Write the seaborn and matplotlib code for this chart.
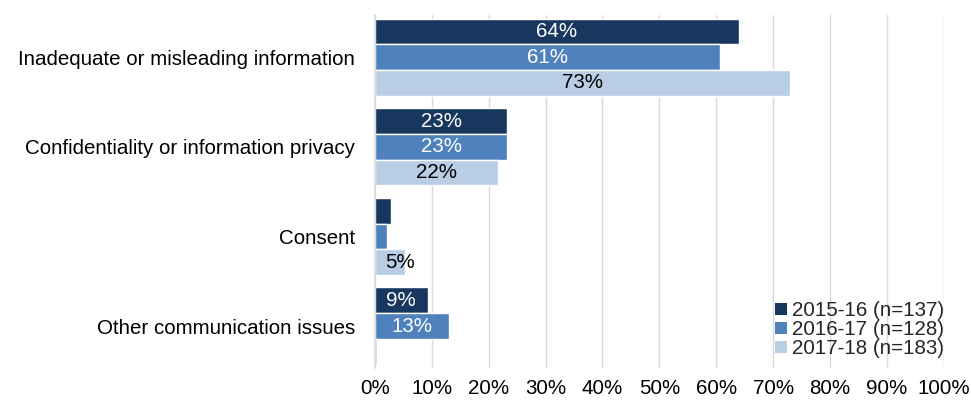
import matplotlib
matplotlib.use("Agg")
import matplotlib.pyplot as plt
import seaborn as sns
import pandas as pd
from matplotlib.patches import Patch

categories = [
    "Inadequate or misleading information",
    "Confidentiality or information privacy",
    "Consent",
    "Other communication issues",
]
years = ["2015-16 (n=137)", "2016-17 (n=128)", "2017-18 (n=183)"]
values_2015 = [64.0, 23.3, 2.8, 9.3]
values_2016 = [60.7, 23.3, 2.2, 13.1]
values_2017 = [73.0, 21.7, 5.3, 0.35]
colors = ["#17375E", "#4F81BD", "#B9CDE5"]
label_colors = ["white", "white", "black"]
min_labelled = 4.0

rows = []
for year, vals in zip(years, [values_2015, values_2016, values_2017]):
    for cat, v in zip(categories, vals):
        rows.append({"category": cat, "year": year, "value": v})
df = pd.DataFrame(rows)

sns.set_theme(style="white")
plt.rcParams["font.family"] = ["Liberation Sans", "DejaVu Sans"]
FS = 14.8

fig = plt.figure(figsize=(9.71, 4.05), dpi=100)
ax = fig.add_axes([0.386, 0.091, 0.586, 0.872])

sns.barplot(data=df, x="value", y="category", hue="year", order=categories,
            hue_order=years, palette=colors, saturation=1, orient="h",
            width=0.86, edgecolor="white", linewidth=1.0, legend=False, ax=ax)

for container, lc in zip(ax.containers, label_colors):
    labels = [f"{v:.0f}%" if v >= min_labelled else "" for v in container.datavalues]
    texts = ax.bar_label(container, labels=labels, label_type="center",
                         color=lc, fontsize=FS)
    # labels wider than their bar are pushed a little to the right
    for t, v in zip(texts, container.datavalues):
        if min_labelled <= v < 8:
            t.xyann = (7.5, 0)

ax.set_xlim(0, 100)
ax.set_ylim(3.47, -0.47)
ax.set_xticks(range(0, 101, 10))
ax.set_xticklabels([f"{t}%" for t in range(0, 101, 10)])
ax.xaxis.grid(True, color="#D9D9D9", linewidth=1.0)
ax.set_axisbelow(True)
for side in ["top", "right", "bottom"]:
    ax.spines[side].set_visible(False)
ax.spines["left"].set_color("#D9D9D9")
ax.spines["left"].set_linewidth(1.2)
ax.tick_params(axis="both", length=0, labelsize=FS, colors="black")
ax.tick_params(axis="y", pad=14)
ax.tick_params(axis="x", pad=8)
ax.set_xlabel("")
ax.set_ylabel("")

handles = [Patch(facecolor=c, edgecolor="none") for c in colors]
ax.legend(handles, years, loc="lower right", bbox_to_anchor=(1.0, 0.028),
          frameon=False, fontsize=FS, handlelength=0.55, handleheight=0.55,
          handletextpad=0.25, labelspacing=0.0, borderaxespad=0.0,
          borderpad=0.0)

fig.savefig("out.png", dpi=100)
